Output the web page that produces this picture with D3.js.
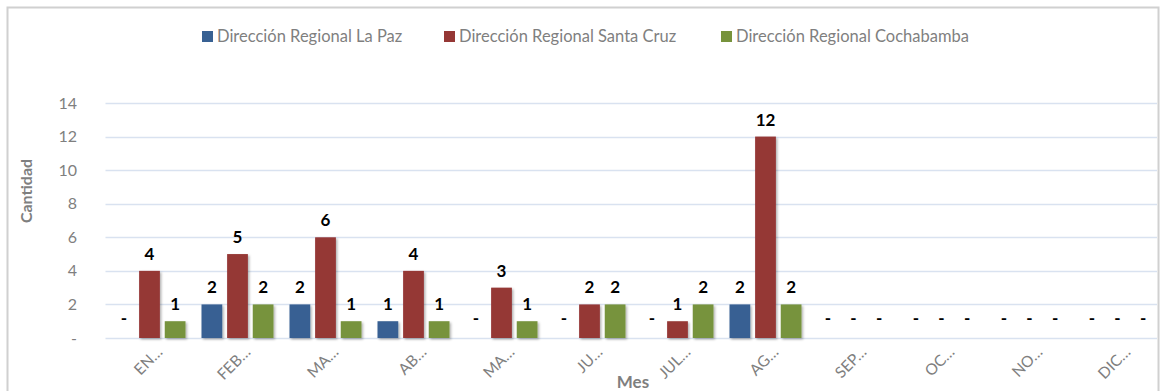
<!DOCTYPE html>
<html>
<head>
<meta charset="utf-8">
<script src="https://cdn.jsdelivr.net/npm/d3@7"></script>
<style>
  html, body { margin: 0; padding: 0; background: #fff; }
  svg { display: block; font-family: Lato, "Open Sans", sans-serif; }
</style>
</head>
<body>
<svg id="chart" width="1162" height="391"></svg>
<script>
// Monthly counts by regional office
const months = ["EN…", "FEB…", "MA…", "AB…", "MA…", "JU…", "JUL…", "AG…", "SEP…", "OC…", "NO…", "DIC…"];
const seriesNames = ["Dirección Regional La Paz", "Dirección Regional Santa Cruz", "Dirección Regional Cochabamba"];
const laPaz      = [0, 2, 2, 1, 0, 0, 0, 2, 0, 0, 0, 0];
const santaCruz  = [4, 5, 6, 4, 3, 2, 1, 12, 0, 0, 0, 0];
const cochabamba = [1, 2, 1, 1, 1, 2, 2, 2, 0, 0, 0, 0];
const yTicks = [0, 2, 4, 6, 8, 10, 12, 14];
const colors = ["#386193", "#953735", "#77933c"];

const svg = d3.select("#chart");

// chart frame
svg.append("rect")
  .attr("x", 7.5).attr("y", 7.5)
  .attr("width", 1151).attr("height", 400)
  .attr("fill", "#fff").attr("stroke", "#d0d0d0").attr("stroke-width", 2);

const plot = { left: 105.5, right: 1161.5, top: 103, bottom: 338 };

const x0 = d3.scaleBand().domain(d3.range(months.length)).range([plot.left, plot.right]).padding(0);
const x1 = d3.scaleBand().domain([0, 1, 2]).range([0, 72]).paddingInner(0.19).paddingOuter(0);
const y = d3.scaleLinear().domain([0, 14]).range([plot.bottom, plot.top]);

// soft shadow under bars
const defs = svg.append("defs");
const f = defs.append("filter").attr("id", "shadow").attr("x", "-20%").attr("y", "-20%").attr("width", "160%").attr("height", "160%");
f.append("feDropShadow").attr("dx", 1.5).attr("dy", 1.5).attr("stdDeviation", 1.2).attr("flood-color", "#000").attr("flood-opacity", 0.3);

// gridlines
svg.append("g").selectAll("line").data(yTicks).join("line")
  .attr("x1", plot.left).attr("x2", 1157)
  .attr("y1", d => Math.round(y(d)) + 0.5).attr("y2", d => Math.round(y(d)) + 0.5)
  .attr("stroke", "#d9e2f0").attr("stroke-width", 1.5);

// y axis labels
const yAxis = d3.axisLeft(y).tickValues(yTicks).tickSize(0).tickPadding(0)
  .tickFormat(d => d === 0 ? "-" : d);
const gy = svg.append("g").attr("transform", "translate(77,0)").call(yAxis);
gy.select(".domain").remove();
gy.selectAll("text").attr("fill", "#7f7f7f").style("font-size", "16px").style("font-family", "Lato, sans-serif");

// bars
const data = [laPaz, santaCruz, cochabamba];
const groups = svg.append("g").selectAll("g").data(months).join("g")
  .attr("transform", (d, i) => `translate(${x0(i) + x0.bandwidth() / 2 - 36},0)`);

groups.selectAll("rect")
  .data((d, i) => data.map((s, k) => ({ k, v: s[i] })).filter(e => e.v > 0))
  .join("rect")
  .attr("x", e => x1(e.k))
  .attr("y", e => y(e.v))
  .attr("width", x1.bandwidth())
  .attr("height", e => y(0) - y(e.v))
  .attr("fill", e => colors[e.k])
  .attr("filter", "url(#shadow)");

// value labels ("-" for zero)
groups.selectAll("text.val")
  .data((d, i) => data.map((s, k) => ({ k, v: s[i] })))
  .join("text")
  .attr("class", "val")
  .attr("x", e => x1(e.k) + x1.bandwidth() / 2)
  .attr("y", e => e.v > 0 ? y(e.v) - 11 : y(0) - 14)
  .attr("text-anchor", "middle")
  .attr("fill", "#000")
  .style("font-size", "17px")
  .style("font-weight", "bold")
  .text(e => e.v > 0 ? e.v : "-");

// x axis category labels
const xAxis = d3.axisBottom(x0).tickSize(0).tickFormat(i => months[i]);
const gx = svg.append("g").attr("transform", `translate(0,${plot.bottom})`).call(xAxis);
gx.select(".domain").remove();
gx.selectAll("text")
  .attr("fill", "#7f7f7f").style("font-size", "15.5px").style("font-family", "Lato, sans-serif")
  .attr("text-anchor", "end")
  .attr("dy", "0")
  .attr("transform", "translate(14,15) rotate(-45)")
  .attr("y", 0).attr("x", 0);

// axis titles
svg.append("text")
  .attr("transform", "translate(32,191) rotate(-90)")
  .attr("text-anchor", "middle")
  .attr("fill", "#7f7f7f").style("font-size", "16px").style("font-weight", "bold")
  .text("Cantidad");
svg.append("text")
  .attr("x", 633).attr("y", 388)
  .attr("text-anchor", "middle")
  .attr("fill", "#7f7f7f").style("font-size", "17px").style("font-weight", "bold")
  .text("Mes");

// legend
const legendX = [202, 444, 721];
const lg = svg.append("g").selectAll("g").data(seriesNames).join("g")
  .attr("transform", (d, i) => `translate(${legendX[i]},31)`);
lg.append("rect").attr("width", 11).attr("height", 11).attr("fill", (d, i) => colors[i]);
lg.append("text").attr("x", 15).attr("y", 11)
  .attr("fill", "#7f7f7f").style("font-size", "16.5px")
  .text(d => d);
</script>
</body>
</html>
